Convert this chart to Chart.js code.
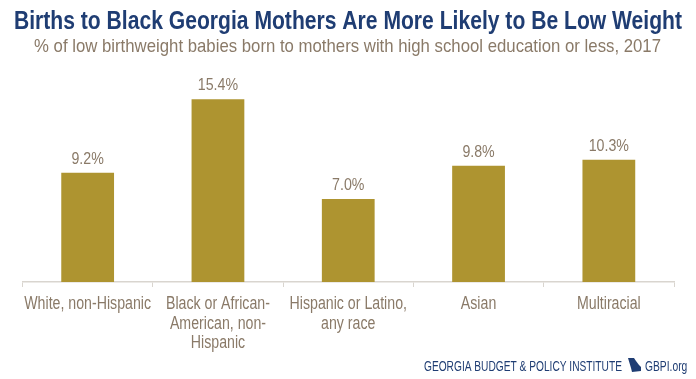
<!DOCTYPE html>
<html>
<head>
<meta charset="utf-8">
<title>Births to Black Georgia Mothers</title>
<script src="https://cdn.jsdelivr.net/npm/chart.js@4/dist/chart.umd.min.js"></script>
<style>
    html, body { margin: 0; background: #fff; }
    canvas { display: block; }
</style>
</head>
<body>
<canvas id="gbpiChart" width="696" height="379"></canvas>
<script>
const titleText = 'Births to Black Georgia Mothers Are More Likely to Be Low Weight';
const subtitleText = '% of low birthweight babies born to mothers with high school education or less, 2017';
const footerOrg = 'GEORGIA BUDGET & POLICY INSTITUTE';
const footerSite = 'GBPI.org';
const categories = [
    'White, non-Hispanic',
    ['Black or African-', 'American, non-', 'Hispanic'],
    ['Hispanic or Latino,', 'any race'],
    'Asian',
    'Multiracial'
];
const lowWeightPct = [9.2, 15.4, 7.0, 9.8, 10.3];

const SANS = '"Liberation Sans", sans-serif';
const NAVY = '#1f3d73';
const TAN = '#8a7a68';

// 설치된 폰트에 좁은 글꼴이 없어서 fillText의 maxWidth로 가로를 줄인다
function narrowText(ctx, text, x, y, font, color, squeeze, align) {
    ctx.font = font;
    ctx.fillStyle = color;
    ctx.textAlign = align || 'center';
    ctx.textBaseline = 'alphabetic';
    ctx.fillText(text, x, y, ctx.measureText(text).width * squeeze);
}

const textLayer = {
    id: 'textLayer',
    afterDraw(chart) {
        const { ctx } = chart;
        ctx.save();

        // 제목
        ctx.font = `bold 26px ${SANS}`;
        ctx.fillStyle = NAVY;
        ctx.textAlign = 'center';
        ctx.fillText(titleText, 348, 29, 668);
        ctx.font = `19px ${SANS}`;
        ctx.fillStyle = TAN;
        ctx.fillText(subtitleText, 347.5, 52, 627);

        // 막대 위 값
        chart.getDatasetMeta(0).data.forEach((bar, i) => {
            narrowText(ctx, lowWeightPct[i].toFixed(1) + '%', bar.x, bar.y - 9, `16.5px ${SANS}`, TAN, 0.86);
        });

        // x축 라벨
        const xScale = chart.scales.x;
        categories.forEach((label, i) => {
            [].concat(label).forEach((line, j) => {
                narrowText(ctx, line, xScale.getPixelForValue(i), 309 + j * 19.5, `17.5px ${SANS}`, TAN, 0.81);
            });
        });

        // 하단 로고
        narrowText(ctx, footerOrg, 424, 371, `14.7px ${SANS}`, NAVY, 0.693, 'left');
        narrowText(ctx, footerSite, 645, 371, `14.7px ${SANS}`, NAVY, 0.7, 'left');
        ctx.fillStyle = NAVY;
        ctx.fill(new Path2D('M628 358H634L636 361 639 365 641 367 641 371 632 372 631 368Z'));

        ctx.restore();
    }
};

new Chart(document.getElementById('gbpiChart').getContext('2d'), {
    type: 'bar',
    data: {
        labels: categories,
        datasets: [{
            data: lowWeightPct,
            backgroundColor: '#ae9430',
            barPercentage: 0.405,
            categoryPercentage: 1
        }]
    },
    plugins: [textLayer],
    options: {
        responsive: false,
        animation: false,
        layout: { padding: { left: 22.5, right: 22, top: 92, bottom: 0 } },
        plugins: {
            legend: { display: false },
            tooltip: { enabled: false }
        },
        scales: {
            y: { display: false, min: 0, max: 16 },
            x: {
                afterFit(scale) { scale.height = 97; },
                border: { color: '#d9d5cf', width: 1.5 },
                grid: { offset: true, drawOnChartArea: false, color: '#d9d5cf', tickLength: 5 },
                ticks: { display: false }
            }
        }
    }
});
</script>
</body>
</html>
